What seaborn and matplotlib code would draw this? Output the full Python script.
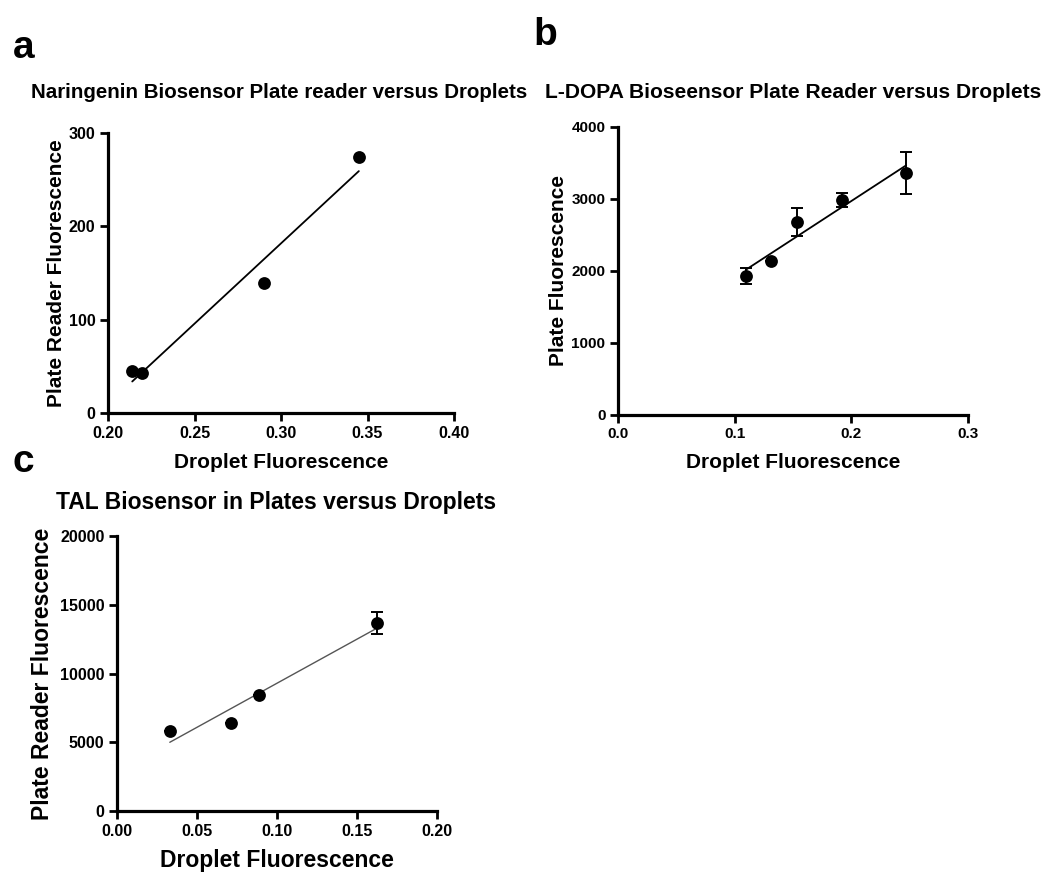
import numpy as np
import matplotlib
matplotlib.use("Agg")
import matplotlib.pyplot as plt
import seaborn as sns
from matplotlib.ticker import FormatStrFormatter, MultipleLocator

sns.set_style("ticks")
plt.rcParams["font.family"] = ["Liberation Sans", "DejaVu Sans"]
plt.rcParams["font.weight"] = "bold"
plt.rcParams["text.color"] = "black"
plt.rcParams["axes.labelcolor"] = "black"
plt.rcParams["xtick.color"] = "black"
plt.rcParams["ytick.color"] = "black"

# --- Naringenin biosensor ---
nar_droplet = [0.214, 0.2197, 0.290, 0.345]
nar_plate = [45, 43, 139, 274]

# --- L-DOPA biosensor ---
dopa_droplet = [0.1097, 0.131, 0.1534, 0.192, 0.247]
dopa_plate = [1930, 2140, 2680, 2986, 3361]
dopa_err = [110, 0, 190, 97, 290]

# --- TAL biosensor ---
tal_droplet = [0.033, 0.0713, 0.0888, 0.1625]
tal_plate = [5818, 6400, 8436, 13670]
tal_err = [0, 0, 0, 800]

W, H = 1044, 876
fig = plt.figure(figsize=(W / 100, H / 100), dpi=100)


def style_axes(ax, xlim, ylim, xstep, ystep, xfmt, tick_fs):
    ax.set_xlim(*xlim)
    ax.set_ylim(*ylim)
    ax.xaxis.set_major_locator(MultipleLocator(xstep))
    ax.yaxis.set_major_locator(MultipleLocator(ystep))
    ax.xaxis.set_major_formatter(FormatStrFormatter(xfmt))
    sns.despine(ax=ax)
    for s in ("left", "bottom"):
        ax.spines[s].set_linewidth(2.3)
        ax.spines[s].set_color("black")
        ax.spines[s].set_capstyle("projecting")
    ax.tick_params(axis="both", direction="out", length=6, width=2.0,
                   colors="black", labelcolor="black", labelsize=tick_fs, pad=3)
    for lab in ax.get_xticklabels() + ax.get_yticklabels():
        lab.set_fontweight("bold")
    ax.set_facecolor("white")


def draw_panel(ax, x, y, err, line_color, line_w):
    sns.regplot(x=x, y=y, ax=ax, ci=None, truncate=True, scatter=False,
                line_kws=dict(color=line_color, lw=line_w, zorder=2))
    if err is not None:
        ax.errorbar(x, y, yerr=err, fmt="none", ecolor="black",
                    elinewidth=1.4, capsize=4.5, capthick=1.4, zorder=3)
    sns.scatterplot(x=x, y=y, ax=ax, color="black", s=85,
                    edgecolor="black", linewidth=0, zorder=4, legend=False)
    ax.set_xlabel("")
    ax.set_ylabel("")


def set_labels(ax, xlabel, ylabel, fs, xpos, ypos):
    ax.set_xlabel(xlabel, fontsize=fs, fontweight="bold", va="center")
    ax.set_ylabel(ylabel, fontsize=fs, fontweight="bold", va="center")
    ax.xaxis.set_label_coords(0.5, xpos)
    ax.yaxis.set_label_coords(ypos, 0.5)


# Panel a
ax_a = fig.add_axes([108 / W, 1 - 413 / H, 346 / W, 280 / H])
draw_panel(ax_a, nar_droplet, nar_plate, None, "black", 1.3)
style_axes(ax_a, (0.20, 0.40), (0, 300), 0.05, 100, "%.2f", 11.5)
set_labels(ax_a, "Droplet Fluorescence", "Plate Reader Fluorescence", 15,
           (413 - 462) / 280, (57 - 108) / 346)

# Panel b
ax_b = fig.add_axes([618 / W, 1 - 415 / H, 350 / W, 288 / H])
draw_panel(ax_b, dopa_droplet, dopa_plate, dopa_err, "black", 1.3)
style_axes(ax_b, (0.0, 0.3), (0, 4000), 0.1, 1000, "%.1f", 11)
set_labels(ax_b, "Droplet Fluorescence", "Plate Fluorescence", 15,
           (415 - 463) / 288, (558 - 618) / 350)

# Panel c
ax_c = fig.add_axes([117 / W, 1 - 811 / H, 320 / W, 275 / H])
draw_panel(ax_c, tal_droplet, tal_plate, tal_err, "#555555", 1.0)
style_axes(ax_c, (0.0, 0.20), (0, 20000), 0.05, 5000, "%.2f", 11.5)
set_labels(ax_c, "Droplet Fluorescence", "Plate Reader Fluorescence", 16.5,
           (811 - 860) / 275, (43 - 117) / 320)

# Titles
fig.text(279.5 / W, 1 - 93 / H, "Naringenin Biosensor Plate reader versus Droplets",
         ha="center", va="center", fontsize=14.8, fontweight="bold")
fig.text(793 / W, 1 - 93 / H, "L-DOPA Bioseensor Plate Reader versus Droplets",
         ha="center", va="center", fontsize=15.1, fontweight="bold")
fig.text(276 / W, 1 - 503 / H, "TAL Biosensor in Plates versus Droplets",
         ha="center", va="center", fontsize=16.5, fontweight="bold")

# Panel letters
fig.text(13 / W, 1 - 58 / H, "a", ha="left", va="baseline", fontsize=28, fontweight="bold")
fig.text(533 / W, 1 - 45 / H, "b", ha="left", va="baseline", fontsize=28, fontweight="bold")
fig.text(13 / W, 1 - 472 / H, "c", ha="left", va="baseline", fontsize=28, fontweight="bold")

fig.savefig("out.png", dpi=100, facecolor="white")
